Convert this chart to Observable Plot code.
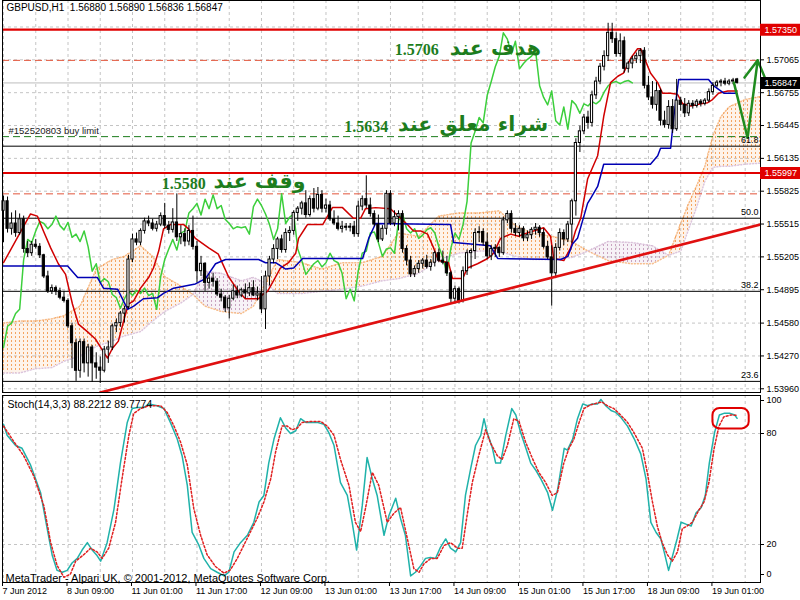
<!DOCTYPE html>
<html><head><meta charset="utf-8">
<script src="https://cdn.jsdelivr.net/npm/d3@7"></script>
<script src="https://cdn.jsdelivr.net/npm/@observablehq/plot@0.6"></script>
<style>
body{margin:0;background:#fff;}
#wrap{position:relative;width:800px;height:600px;overflow:hidden;background:#fff;}
#wrap svg{position:absolute;}
</style></head><body>
<div id="wrap"></div>
<script>
// ---------- DATA ----------
const headerText = "GBPUSD,H1  1.56880 1.56890 1.56836 1.56847";
const stochTitle = "Stoch(14,3,3) 88.2212 89.7774";
const copyright = "MetaTrader - Alpari UK, © 2001-2012, MetaQuotes Software Corp.";
const orderLabel = "#152520803 buy limit";

const open = [1.5564,1.5573,1.5547,1.5552,1.5543,1.5556,1.5528,1.5524,1.5532,1.5530,
1.5522,1.5502,1.5488,1.5491,1.5488,1.5482,1.5479,1.5455,1.5439,1.5413,
1.5440,1.5420,1.5435,1.5420,1.5416,1.5413,1.5433,1.5435,1.5455,1.5458,
1.5467,1.5473,1.5518,1.5537,1.5534,1.5545,1.5554,1.5552,1.5547,1.5551,
1.5559,1.5550,1.5546,1.5553,1.5539,1.5542,1.5535,1.5545,1.5530,1.5507,
1.5514,1.5496,1.5500,1.5497,1.5485,1.5482,1.5472,1.5481,1.5488,1.5484,
1.5489,1.5486,1.5491,1.5484,1.5486,1.5471,1.5502,1.5518,1.5528,1.5537,
1.5527,1.5543,1.5545,1.5562,1.5566,1.5571,1.5560,1.5575,1.5566,1.5579,
1.5566,1.5569,1.5556,1.5552,1.5547,1.5549,1.5548,1.5549,1.5542,1.5568,
1.5575,1.5569,1.5561,1.5551,1.5537,1.5547,1.5580,1.5552,1.5558,1.5561,
1.5528,1.5517,1.5504,1.5509,1.5514,1.5517,1.5511,1.5515,1.5524,1.5517,
1.5515,1.5505,1.5481,1.5490,1.5479,1.5507,1.5524,1.5526,1.5543,1.5544,
1.5534,1.5521,1.5528,1.5529,1.5524,1.5555,1.5561,1.5547,1.5543,1.5547,
1.5538,1.5541,1.5546,1.5548,1.5543,1.5530,1.5520,1.5505,1.5529,1.5543,
1.5537,1.5551,1.5573,1.5628,1.5639,1.5652,1.5647,1.5673,1.5686,1.5700,
1.5710,1.5732,1.5726,1.5712,1.5724,1.5698,1.5703,1.5707,1.5710,1.5715,
1.5682,1.5671,1.5664,1.5677,1.5649,1.5645,1.5662,1.5641,1.5668,1.5664,
1.5656,1.5665,1.5663,1.5667,1.5665,1.5668,1.5676,1.5682,1.5685,1.5686,
1.5684,1.5686,1.56880];
const high = [1.5578,1.5577,1.5562,1.5564,1.5561,1.5559,1.5535,1.5535,1.5537,1.5533,
1.5523,1.5507,1.5494,1.5493,1.5491,1.5488,1.5481,1.5458,1.5443,1.5443,
1.5443,1.5438,1.5437,1.5430,1.5426,1.5436,1.5441,1.5457,1.5462,1.5469,
1.5474,1.5522,1.5542,1.5543,1.5547,1.5557,1.5559,1.5556,1.5554,1.5562,
1.5571,1.5554,1.5566,1.5580,1.5550,1.5547,1.5550,1.5559,1.5535,1.5521,
1.5515,1.5504,1.5505,1.5500,1.5490,1.5484,1.5484,1.5494,1.5493,1.5491,
1.5495,1.5496,1.5498,1.5492,1.5502,1.5507,1.5521,1.5532,1.5539,1.5541,
1.5547,1.5549,1.5564,1.5568,1.5573,1.5583,1.5578,1.5585,1.5586,1.5583,
1.5575,1.5573,1.5564,1.5559,1.5554,1.5552,1.5552,1.5554,1.5573,1.5578,
1.5597,1.5576,1.5564,1.5560,1.5550,1.5583,1.5583,1.5564,1.5564,1.5564,
1.5531,1.5521,1.5512,1.5517,1.5519,1.5522,1.5518,1.5526,1.5528,1.5526,
1.5521,1.5507,1.5493,1.5492,1.5511,1.5527,1.5528,1.5547,1.5549,1.5547,
1.5543,1.5531,1.5532,1.5530,1.5558,1.5564,1.5564,1.5552,1.5550,1.5549,
1.5545,1.5548,1.5552,1.5550,1.5547,1.5535,1.5531,1.5533,1.5547,1.5546,
1.5554,1.5575,1.5632,1.5644,1.5655,1.5658,1.5677,1.5690,1.5703,1.5715,
1.5741,1.5741,1.5732,1.5731,1.5728,1.5705,1.5710,1.5713,1.5717,1.5718,
1.5691,1.5686,1.5685,1.5679,1.5658,1.5668,1.5669,1.5688,1.5671,1.5670,
1.5668,1.5668,1.5669,1.5669,1.5670,1.5679,1.5685,1.5687,1.5688,1.5689,
1.5688,1.5689,1.56890];
const low = [1.5534,1.5543,1.5541,1.5539,1.5541,1.5524,1.5520,1.5521,1.5528,1.5519,
1.5500,1.5486,1.5485,1.5484,1.5480,1.5477,1.5453,1.5415,1.5403,1.5406,
1.5411,1.5407,1.5402,1.5405,1.5401,1.5411,1.5420,1.5432,1.5449,1.5454,
1.5458,1.5471,1.5515,1.5531,1.5531,1.5542,1.5549,1.5545,1.5544,1.5549,
1.5547,1.5542,1.5543,1.5535,1.5532,1.5530,1.5531,1.5527,1.5496,1.5502,
1.5488,1.5490,1.5492,1.5483,1.5478,1.5468,1.5462,1.5479,1.5481,1.5482,
1.5481,1.5483,1.5483,1.5479,1.5467,1.5452,1.5493,1.5514,1.5518,1.5524,
1.5524,1.5535,1.5541,1.5554,1.5560,1.5557,1.5558,1.5562,1.5564,1.5562,
1.5562,1.5554,1.5550,1.5545,1.5543,1.5545,1.5544,1.5539,1.5539,1.5564,
1.5566,1.5558,1.5549,1.5534,1.5535,1.5541,1.5550,1.5549,1.5545,1.5524,
1.5512,1.5501,1.5501,1.5505,1.5509,1.5509,1.5507,1.5511,1.5515,1.5513,
1.5502,1.5477,1.5476,1.5476,1.5477,1.5503,1.5509,1.5518,1.5534,1.5531,
1.5518,1.5517,1.5520,1.5520,1.5522,1.5552,1.5543,1.5540,1.5539,1.5535,
1.5535,1.5537,1.5541,1.5539,1.5528,1.5518,1.5474,1.5500,1.5526,1.5531,
1.5534,1.5533,1.5559,1.5619,1.5636,1.5641,1.5643,1.5669,1.5683,1.5696,
1.5705,1.5722,1.5709,1.5709,1.5694,1.5694,1.5698,1.5703,1.5703,1.5679,
1.5668,1.5660,1.5658,1.5644,1.5642,1.5641,1.5637,1.5639,1.5658,1.5652,
1.5653,1.5660,1.5661,1.5662,1.5663,1.5666,1.5673,1.5680,1.5681,1.5682,
1.5682,1.5683,1.56836];
const close = [1.5573,1.5547,1.5552,1.5543,1.5556,1.5528,1.5524,1.5532,1.5530,1.5522,
1.5502,1.5488,1.5491,1.5488,1.5482,1.5479,1.5455,1.5439,1.5413,1.5440,
1.5420,1.5435,1.5420,1.5416,1.5413,1.5433,1.5435,1.5455,1.5458,1.5467,
1.5471,1.5518,1.5537,1.5534,1.5545,1.5554,1.5552,1.5547,1.5551,1.5559,
1.5550,1.5546,1.5553,1.5539,1.5542,1.5535,1.5545,1.5530,1.5507,1.5514,
1.5496,1.5500,1.5497,1.5485,1.5482,1.5472,1.5481,1.5488,1.5484,1.5489,
1.5486,1.5491,1.5484,1.5486,1.5471,1.5502,1.5518,1.5528,1.5537,1.5527,
1.5543,1.5545,1.5562,1.5566,1.5571,1.5560,1.5575,1.5566,1.5579,1.5566,
1.5569,1.5556,1.5552,1.5547,1.5549,1.5548,1.5549,1.5542,1.5568,1.5575,
1.5569,1.5561,1.5551,1.5537,1.5547,1.5580,1.5552,1.5558,1.5561,1.5528,
1.5517,1.5504,1.5509,1.5514,1.5517,1.5511,1.5515,1.5524,1.5517,1.5515,
1.5505,1.5481,1.5490,1.5479,1.5507,1.5524,1.5526,1.5543,1.5544,1.5534,
1.5521,1.5528,1.5529,1.5524,1.5555,1.5561,1.5547,1.5543,1.5547,1.5538,
1.5541,1.5546,1.5548,1.5543,1.5530,1.5520,1.5505,1.5529,1.5543,1.5537,
1.5551,1.5573,1.5628,1.5639,1.5652,1.5647,1.5673,1.5686,1.5700,1.5710,
1.5732,1.5726,1.5712,1.5724,1.5698,1.5703,1.5707,1.5710,1.5715,1.5682,
1.5671,1.5664,1.5677,1.5649,1.5645,1.5662,1.5641,1.5668,1.5664,1.5656,
1.5665,1.5663,1.5667,1.5665,1.5668,1.5676,1.5682,1.5685,1.5686,1.5684,
1.5686,1.5687,1.56847];

// Ichimoku (bar, price)
const tenkan = [[0,1.5515],[6.7,1.5561],[8.4,1.5559],[9.9,1.5545],[11.7,1.5529],[13.6,1.5514],[15.4,1.5504],[17.1,1.5476],[18.6,1.5457],[20.8,1.5450],[22.8,1.5443],[24.6,1.5432],[25.8,1.5425],[27,1.5434],[28.5,1.5441],[29.8,1.5460],[31,1.5476],[32.3,1.5479],[34,1.5491],[36,1.5501],[37.2,1.5510],[38.5,1.5526],[39.7,1.5547],[41.4,1.5551],[44.7,1.5551],[45.9,1.5547],[47.6,1.5538],[50.9,1.5529],[53.3,1.5523],[54.6,1.5512],[55.8,1.5502],[58.3,1.5488],[60,1.5481],[63.3,1.5481],[64.3,1.5485],[65.5,1.5488],[67,1.5498],[68.7,1.5510],[70.7,1.5515],[72.5,1.5524],[73.2,1.5538],[74.9,1.5548],[75.4,1.5551],[79.2,1.5551],[80.4,1.5559],[81.6,1.5567],[84.1,1.5567],[86.8,1.5557],[88.6,1.5557],[89.8,1.5566],[92.3,1.5567],[96,1.5566],[98.5,1.5557],[100.2,1.5551],[101.7,1.5545],[103.5,1.5545],[105.2,1.5542],[106.7,1.5529],[107.9,1.5517],[110.4,1.5515],[111.4,1.5500],[113.9,1.5500],[115.1,1.5510],[117.6,1.5514],[120.1,1.5519],[121.6,1.5524],[123.3,1.5538],[125.8,1.5542],[127.8,1.5540],[129,1.5542],[131.5,1.5545],[134,1.5548],[135.7,1.5540],[136.5,1.5519],[139,1.5517],[140.7,1.5529],[141.9,1.5545],[143.2,1.5557],[144.9,1.5594],[147.4,1.5616],[148.9,1.5653],[150.6,1.5685],[152.4,1.5691],[153.8,1.5694],[155.6,1.5708],[157.3,1.5717],[158.1,1.5717],[158.8,1.5710],[160.5,1.5694],[162.3,1.5685],[163.5,1.5675],[165.5,1.5675],[167.2,1.5674],[168.5,1.5665],[170.5,1.5663],[173,1.5665],[174.7,1.5666],[175.9,1.5669],[177.4,1.5675],[179.7,1.5677],[182,1.5677]];
const kijun = [[0,1.5512],[15.9,1.5512],[18.4,1.5501],[23.3,1.5501],[24.8,1.5491],[28.3,1.5490],[30.8,1.5471],[32.3,1.5474],[34.7,1.5481],[38.2,1.5482],[39.7,1.5486],[42.2,1.5491],[47.6,1.5495],[50.1,1.5500],[52.6,1.5514],[55.1,1.5518],[63.3,1.5518],[65,1.5515],[67.5,1.5515],[70,1.5509],[72,1.5510],[74.2,1.5519],[89.1,1.5519],[90.6,1.5538],[92.3,1.5552],[110.9,1.5551],[111.7,1.5534],[120.8,1.5531],[122.6,1.5519],[138.2,1.5518],[140,1.5521],[141.2,1.5533],[142.4,1.5538],[144.9,1.5571],[145.7,1.5576],[147.4,1.5587],[148.9,1.5608],[160.5,1.5608],[162.3,1.5616],[163,1.5623],[165.5,1.5623],[166.3,1.5653],[167.5,1.5688],[174.9,1.5688],[176.2,1.5682],[178.7,1.5675],[182,1.5675]];
// cloud: bar, senkou span A, senkou span B
const cloud = [[0,1.5458,1.5411],[4,1.5460,1.5411],[8,1.5460,1.5415],[12,1.5462,1.5416],[15,1.5465,1.5422],[19,1.5474,1.5427],[23,1.5509,1.5436],[27,1.5518,1.5441],[30,1.5521,1.5446],[34,1.5531,1.5450],[37,1.5521,1.5460],[40,1.5502,1.5469],[44,1.5493,1.5477],[47,1.5485,1.5485],[50,1.5474,1.5507],[54,1.5469,1.5505],[59,1.5467,1.5498],[62,1.5474,1.5501],[65,1.5496,1.5496],[68,1.5518,1.5486],[74,1.5515,1.5486],[79,1.5509,1.5488],[84,1.5515,1.5490],[89,1.5515,1.5493],[94,1.5521,1.5498],[98,1.5543,1.5500],[103,1.5540,1.5505],[108,1.5559,1.5518],[113,1.5562,1.5524],[118,1.5562,1.5526],[123,1.5564,1.5526],[127,1.5550,1.5521],[131,1.5543,1.5518],[136,1.5540,1.5518],[141,1.5535,1.5520],[145,1.5526,1.5526],[150,1.5517,1.5535],[156,1.5514,1.5534],[161,1.5514,1.5531],[165,1.5522,1.5522],[168,1.5552,1.5526],[170,1.5571,1.5547],[172,1.5588,1.5568],[174,1.5606,1.5592],[176,1.5635,1.5605],[178,1.5653,1.5606],[180,1.5662,1.5606],[184,1.5669,1.5608],[188,1.5672,1.5609]];
const chikouShift = 26;

// Stochastic (bar, value)
const stochK = [[0,85],[0.9,79],[3,73.5],[4.6,72],[6.7,63],[9.2,48],[10.8,29],[12.1,14],[13.3,6],[14.6,5],[15.8,6],[17,10],[18.3,12.5],[19.5,17],[20.8,21],[22,17],[23.2,14],[24.1,11],[25.7,21],[27.4,39],[29,64],[30.7,86],[31.9,93.5],[33.2,94],[34.8,94],[36.1,96],[38.1,95],[39.8,93.5],[41.4,86],[43.1,77],[44.3,68],[45.6,52],[46.8,26.5],[48.5,19.5],[49.7,12.5],[51.4,7],[53,5],[54.7,3],[55.9,5],[57.2,16],[58.8,21],[60.5,25],[62.1,32],[63.4,43],[64.6,46.5],[65.8,64],[67.1,77],[68.7,88.5],[70,83],[71.2,80],[72.5,81.5],[73.7,88],[75,86],[76.2,86],[77.8,86],[79.5,85],[80.7,80.5],[82,73.5],[83.6,53.5],[85.3,46.5],[86.5,32],[87.6,17],[89,41],[90.2,67],[91.5,55.5],[92.7,46.5],[94.4,25],[95.6,35.5],[97.3,45],[98.5,34],[99.7,25],[101,3],[102.2,5],[103.5,8.6],[104.7,12.5],[105.9,13],[107.2,12.5],[108.4,18.5],[109.7,23],[110.9,18],[112.2,16],[113.4,21],[114.6,46.5],[115.9,61],[117.1,73.5],[118.4,79],[119.2,88],[120,80.5],[121.3,72],[122.1,64],[123.3,64],[124.6,79],[126.1,93.5],[127.1,90],[128.3,80.5],[129.6,72],[130.8,64],[132.1,60],[133.3,55.5],[135,48],[136.2,38.5],[137.5,50],[139.1,72],[139.9,71],[141.2,77],[142.4,88],[143.7,96],[144.9,95],[146.1,96],[147.4,96],[148.2,98.4],[149.4,95],[150.7,92.4],[151.9,91.4],[153.2,88.6],[154.8,84],[156.5,77],[158.1,69],[159.4,55.5],[160.6,32],[161.9,26.5],[163.1,23],[163.9,16],[165,6],[166,14],[167.1,23],[168.1,32],[169.3,31],[170.6,30],[171.8,37],[173.1,40],[174.1,46.5],[175.1,64],[176.4,80.5],[177.6,90],[178.9,91],[180.1,91],[181.4,90],[182,88.2]];
const stochD = [[0,84],[2.6,75.5],[5,68],[7.5,57],[10,41],[11.7,21],[13.3,8.6],[15,2.3],[16.6,4],[17.9,11],[19.9,14.5],[21.6,18],[23.2,16],[24.5,12.5],[26.1,18],[27.8,32],[29.4,55.5],[31.1,79],[32.3,90.8],[34,93.5],[36.1,95],[39,95],[40.6,91.4],[42.3,84],[43.9,75.5],[45.6,63],[47.2,39.5],[48.9,25],[50.5,14.5],[52.6,8.1],[54.7,4.5],[56.3,6.3],[58,12.5],[59.6,19.5],[61.3,27],[62.9,34],[64.6,43],[66.3,55.5],[67.5,70],[69.1,84],[70.4,84],[71.6,82],[72.9,83],[74.1,86],[76.2,86.5],[78.7,86.5],[80.3,84],[82,79],[83.6,66],[85.7,52],[87.3,32],[88.6,27],[89.8,39.5],[91.5,59],[93.1,52],[95.2,32],[96.9,37],[98.5,40],[100.2,23],[101.8,7],[103.1,5],[104.3,9.5],[106,12.5],[107.6,12.5],[109.3,19.5],[110.9,21],[112.6,18],[113.8,18],[115.1,37],[116.3,53.5],[117.9,68],[119.6,82],[120.8,75],[122.5,68],[123.7,66],[125,73.5],[126.6,88],[127.9,86.5],[129.5,75.5],[131.2,66.6],[132.8,59],[134.5,53.5],[136.1,46.5],[137.4,48],[139,64],[140.3,72],[141.5,77],[142.8,86],[144,93.5],[145.7,95.5],[147.3,96.5],[148.5,97],[149.8,95],[151.4,93.5],[153.1,90],[154.8,86],[156.4,80.5],[158.5,72],[159.7,59],[161,43],[162.2,30],[163.4,21],[164.7,14.5],[165.9,11],[167.2,16],[168.4,28.5],[169.6,30],[170.9,32],[172.5,38.5],[173.8,43],[175,53.5],[176.3,72],[177.5,84],[178.7,89],[180.4,90],[182,89.8]];
const stochLevels = [20, 80];
const stochHighlight = {bar1: 176, bar2: 185, lo: 82.5, hi: 93.5};

// Axis / levels
const priceTicks = [1.53960,1.54270,1.54580,1.54895,1.55205,1.55515,1.55825,1.56135,1.56445,1.56755,1.57065];
const gridPrices = [...priceTicks, 1.57375];
const gridBars = d3.range(0, 188, 8);
const dateBars = [0,16,32,48,64,80,96,112,128,144,160,176];
const dateLabels = ["7 Jun 2012","8 Jun 09:00","11 Jun 01:00","11 Jun 17:00","12 Jun 09:00","13 Jun 01:00","13 Jun 17:00","14 Jun 09:00","15 Jun 01:00","15 Jun 17:00","18 Jun 09:00","19 Jun 01:00"];
const fibLevels = [{price:1.5625,label:"61.8"},{price:1.5557,label:"50.0"},{price:1.5488,label:"38.2"},{price:1.5403,label:"23.6"}];
const redLevels = [1.5735, 1.55997];
const dashedLevels = [{price:1.5706,color:"#e2553a"},{price:1.5580,color:"#e2553a"},{price:1.5634,color:"#1c7c1c"}];
const bidPrice = 1.56847;
const priceBoxes = [{price:1.5735,label:"1.57350",color:"#e00000"},{price:1.56847,label:"1.56847",color:"#000000"},{price:1.55997,label:"1.55997",color:"#e00000"}];
const trendline = [{bar:24,price:1.53925},{bar:187.8,price:1.5551}];
const forecast = [{bar:181.2,price:1.5685},{bar:184.6,price:1.5633},{bar:187.1,price:1.5706}];
const notes = [
  {level:1.5706, numBar:102.5, textBar:122, number:"1.5706", label:"هدف عند"},
  {level:1.5634, numBar:90, textBar:116.5, number:"1.5634", label:"شراء معلق عند"},
  {level:1.5580, numBar:44.7, textBar:63.5, number:"1.5580", label:"وقف عند"}
];
const buyLimitPrice = 1.5634;

// ---------- DRAW ----------
const xDomain = [-0.25, 187.8];
const priceDomain = [1.53925, 1.57625];
const bars = open.map((o, i) => ({i, open:o, high:high[i], low:low[i], close:close[i]}));
const baseStyle = {background:"transparent", fontFamily:"Liberation Sans, Arial, sans-serif", fontSize:"9px", color:"black"};
const dashGrid = {stroke:"#c4c4c4", strokeDasharray:"3,3", strokeWidth:1};
const noteGreen = "#1d7d1d";
const upColor = "#f4a460", downColor = "#d8bfd8";

const main = Plot.plot({
  width:800, height:393, marginLeft:2, marginRight:40, marginTop:0, marginBottom:1,
  x:{domain:xDomain, range:[2,760], axis:null},
  y:{domain:priceDomain, range:[392,0]},
  style:baseStyle,
  marks:[
    Plot.ruleY(gridPrices, dashGrid),
    Plot.ruleX(gridBars, dashGrid),
    Plot.areaY(cloud, {x:d=>d[0], y1:d=>d[1]>=d[2]?d[1]:NaN, y2:d=>d[2], fill:upColor, fillOpacity:0.13, clip:true}),
    Plot.areaY(cloud, {x:d=>d[0], y1:d=>d[1]<=d[2]?d[1]:NaN, y2:d=>d[2], fill:downColor, fillOpacity:0.2, clip:true}),
    Plot.areaY(cloud, {x:d=>d[0], y1:d=>d[1]>=d[2]?d[1]:NaN, y2:d=>d[2], fill:"url(#cloudUpPat)", clip:true}),
    Plot.areaY(cloud, {x:d=>d[0], y1:d=>d[1]<=d[2]?d[1]:NaN, y2:d=>d[2], fill:"url(#cloudDownPat)", clip:true}),
    Plot.line(cloud, {x:d=>d[0], y:d=>d[1], stroke:upColor, strokeOpacity:0.7, strokeDasharray:"1,2", clip:true}),
    Plot.line(cloud, {x:d=>d[0], y:d=>d[2], stroke:downColor, strokeOpacity:0.9, strokeDasharray:"1,2", clip:true}),
    Plot.ruleY([bidPrice], {stroke:"#bdbdbd"}),
    Plot.ruleY(fibLevels, {y:"price", stroke:"black"}),
    Plot.ruleY(dashedLevels, {y:"price", stroke:"color", strokeDasharray:"7,4"}),
    Plot.ruleY(redLevels, {stroke:"#e00000", strokeWidth:2.2}),
    Plot.line(bars.filter(d=>d.i>=chikouShift), {x:d=>d.i-chikouShift, y:"close", stroke:"#3ccf3c"}),
    Plot.line(tenkan, {x:d=>d[0], y:d=>d[1], stroke:"#d00000"}),
    Plot.line(kijun, {x:d=>d[0], y:d=>d[1], stroke:"#0000b4"}),
    Plot.ruleX(bars, {x:"i", y1:"low", y2:"high", stroke:"black"}),
    Plot.rect(bars, {x1:d=>d.i-0.27, x2:d=>d.i+0.27, y1:"open", y2:"close", fill:d=>d.close>=d.open?"white":"black", stroke:"black", strokeWidth:1}),
    Plot.line(trendline, {x:"bar", y:"price", stroke:"#e01010", strokeWidth:2.6, clip:true}),
    Plot.line(forecast.slice(0,2), {x:"bar", y:"price", stroke:"#1f8c1f", strokeWidth:2.5}),
    Plot.arrow([forecast], {x1:d=>d[1].bar, y1:d=>d[1].price, x2:d=>d[2].bar, y2:d=>d[2].price, stroke:"#1f8c1f", strokeWidth:2.5, headLength:13}),
    Plot.text(fibLevels, {y:"price", text:"label", frameAnchor:"right", textAnchor:"end", dx:-2, dy:-6, fontSize:9}),
    Plot.text([orderLabel], {text:d=>d, y:()=>buyLimitPrice, frameAnchor:"left", textAnchor:"start", dx:6, dy:-6, fontSize:9.5, fill:"#222"}),
    Plot.text(notes, {x:"numBar", y:"level", text:"number", dy:-10, fontFamily:"Liberation Serif, serif", fontWeight:"bold", fontSize:16, fill:noteGreen}),
    Plot.text(notes, {x:"textBar", y:"level", text:"label", dy:-12, fontFamily:"DejaVu Sans, sans-serif", fontWeight:"bold", fontSize:20.5, fill:noteGreen}),
    Plot.text([headerText], {text:d=>d, frameAnchor:"top-left", textAnchor:"start", lineAnchor:"top", dx:4, dy:3, fontSize:10}),
    Plot.frame({stroke:"black"}),
    Plot.axisY(priceTicks, {anchor:"right", tickSize:3, tickPadding:3, tickFormat:d=>d.toFixed(5), label:null, fontSize:9})
  ]
});
main.style.left = "0px"; main.style.top = "0px";
// dotted-column patterns for the cloud, defined inside the chart's own SVG
const NS = "http://www.w3.org/2000/svg";
const defs = document.createElementNS(NS, "defs");
[["cloudUpPat", upColor], ["cloudDownPat", "#c9a3c0"]].forEach(([id, col]) => {
  const p = document.createElementNS(NS, "pattern");
  p.setAttribute("id", id); p.setAttribute("patternUnits", "userSpaceOnUse");
  p.setAttribute("x", "3"); p.setAttribute("y", "0");
  p.setAttribute("width", "4"); p.setAttribute("height", "4");
  const r = document.createElementNS(NS, "rect");
  r.setAttribute("x", "0"); r.setAttribute("y", "0");
  r.setAttribute("width", "1"); r.setAttribute("height", "2");
  r.setAttribute("fill", col);
  p.appendChild(r); defs.appendChild(p);
});
main.insertBefore(defs, main.firstChild);

const gutter = Plot.plot({
  width:40, height:393, marginLeft:0, marginRight:0, marginTop:0, marginBottom:1,
  y:{domain:priceDomain, range:[392,0], axis:null},
  style:baseStyle,
  marks:[
    Plot.ruleY(priceBoxes, {y:"price", stroke:"color", strokeWidth:12}),
    Plot.text(priceBoxes, {y:"price", text:"label", frameAnchor:"left", textAnchor:"start", dx:4, fill:"white", fontSize:9})
  ]
});
gutter.style.left = "760px"; gutter.style.top = "0px";

const dateMap = new Map(dateBars.map((b,k)=>[b, dateLabels[k]]));
const stoch = Plot.plot({
  width:800, height:207, marginLeft:2, marginRight:40, marginTop:2, marginBottom:18,
  x:{domain:xDomain, range:[2,760]},
  y:{domain:[0,100], range:[188,3]},
  style:baseStyle,
  marks:[
    Plot.ruleX(gridBars, dashGrid),
    Plot.ruleY(stochLevels, dashGrid),
    Plot.line(stochK, {x:d=>d[0], y:d=>d[1], stroke:"#20b2aa"}),
    Plot.line(stochD, {x:d=>d[0], y:d=>d[1], stroke:"#e02020", strokeDasharray:"2,2"}),
    Plot.rect([stochHighlight], {x1:"bar1", x2:"bar2", y1:"lo", y2:"hi", rx:7, fill:"none", stroke:"#e00000", strokeWidth:2}),
    Plot.text([stochTitle], {text:d=>d, frameAnchor:"top-left", textAnchor:"start", lineAnchor:"top", dx:5, dy:5, fontSize:10.5}),
    Plot.text([copyright], {text:d=>d, frameAnchor:"bottom-left", textAnchor:"start", lineAnchor:"bottom", dx:3, dy:-1, fontSize:11}),
    Plot.frame({stroke:"black"}),
    Plot.axisY(stochLevels, {anchor:"right", tickSize:3, tickPadding:3, label:null, fontSize:9}),
    Plot.axisY([100], {anchor:"right", tickSize:3, tickPadding:3, label:null, fontSize:9, dy:4}),
    Plot.axisY([0], {anchor:"right", tickSize:3, tickPadding:3, label:null, fontSize:9, dy:-7}),
    Plot.axisX(dateBars, {tickFormat:d=>dateMap.get(d), textAnchor:"start", tickSize:4, tickPadding:1, dx:-1, label:null, fontSize:9})
  ]
});
stoch.style.left = "0px"; stoch.style.top = "393px";

const wrap = document.getElementById("wrap");
wrap.append(main, gutter, stoch);
</script>
</body></html>
